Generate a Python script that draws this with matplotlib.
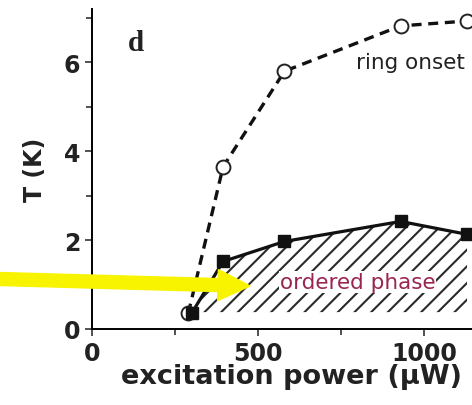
import matplotlib.pyplot as plt
from matplotlib.patches import FancyArrow
from matplotlib.ticker import MultipleLocator

# data
power_onset = [290, 395, 580, 930, 1130]
t_onset = [0.35, 3.65, 5.8, 6.82, 6.93]
power_order = [300, 395, 580, 930, 1130]
t_order = [0.35, 1.52, 1.97, 2.42, 2.13]
hatch_floor = 0.38

x_ticks = [0, 500, 1000]
y_ticks = [0, 2, 4, 6]

plt.rcParams['hatch.linewidth'] = 1.5

fig = plt.figure(figsize=(4.72, 4.06), dpi=100)
ax = fig.add_axes([92 / 472, 76 / 406, 1 - 92 / 472, 320 / 406])

ax.fill_between(power_order, t_order, hatch_floor, facecolor='none',
                edgecolor='#2a2a2a', hatch='//', linewidth=0)
ax.plot(power_onset, t_onset, '--', color='#111111', lw=2.4, dashes=(3, 2),
        marker='o', ms=10, mfc='white', mec='#222222', mew=1.4)
ax.plot(power_order, t_order, '-', color='#111111', lw=2.3,
        marker='s', ms=9, mfc='#111111', mec='#111111')

ax.set_xlim(0, 1145)
ax.set_ylim(0, 7.2)
ax.set_xticks(x_ticks)
ax.set_yticks(y_ticks)
ax.xaxis.set_minor_locator(MultipleLocator(250))
ax.yaxis.set_minor_locator(MultipleLocator(1))
ax.tick_params(which='both', direction='out', width=1.2, color='#333333')
ax.tick_params(which='major', length=5, labelsize=17)
ax.tick_params(which='minor', length=4)
for lab in ax.get_xticklabels() + ax.get_yticklabels():
    lab.set_fontweight('bold')
    lab.set_color('#222222')
ax.spines['top'].set_visible(False)
ax.spines['right'].set_visible(False)
ax.spines['left'].set_linewidth(1.4)
ax.spines['bottom'].set_linewidth(1.4)

ax.set_xlabel('excitation power (\u03bcW)', fontsize=19.5, fontweight='bold',
              color='#222222', labelpad=-1, x=0.525)
ax.set_ylabel('T (K)', fontsize=17, fontweight='bold', color='#222222',
              labelpad=12)

ax.text(133, 6.45, 'd', fontsize=21, fontweight='bold',
        family='Liberation Serif', ha='center', va='center', color='#222222')
ax.text(795, 6.0, 'ring onset', fontsize=15.5, ha='left', va='center',
        color='#222222')
ax.text(800, 1.06, 'ordered phase', fontsize=15.5, ha='center', va='center',
        color='#9a2452',
        bbox=dict(facecolor='white', edgecolor='none', pad=0.5))

# yellow pointer arrow, laid out in inches so it keeps its shape
fig.patches.append(FancyArrow(0, 1.26, 2.5, -0.07, width=0.13,
                              head_width=0.31, head_length=0.32,
                              length_includes_head=True, color='#f8f400',
                              transform=fig.dpi_scale_trans, figure=fig))

fig.savefig('out.png', dpi=100)
